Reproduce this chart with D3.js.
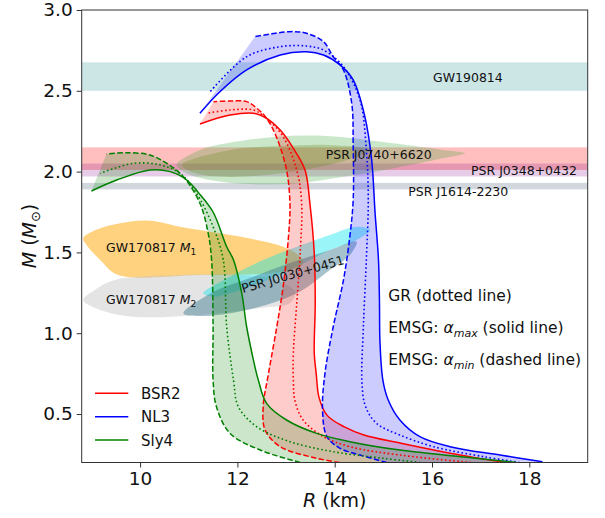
<!DOCTYPE html>
<html>
<head>
<meta charset="utf-8">
<script src="https://cdn.jsdelivr.net/npm/d3@7"></script>
<style>
  body { margin: 0; background: #fff; }
  svg { font-family: "DejaVu Sans", sans-serif; }
</style>
</head>
<body>
<svg width="605" height="518"></svg>
<script>
// ---- data: [R (km), M (Msun)] ----
var bsr2Solid = [[17.5,0.2],[16.37,0.257],[15.34,0.32],[14.6,0.37],[14.2,0.42],[13.85,0.49],[13.68,0.6],[13.62,0.75],[13.58,0.876],[13.6,1.185],[13.58,1.494],[13.49,1.804],[13.39,2.01],[13.15,2.144],[12.88,2.257],[12.6,2.33],[12.33,2.361],[11.85,2.35],[11.23,2.295]];
var bsr2Dotted = [[16.8,0.2],[15.34,0.246],[14.31,0.298],[13.77,0.36],[13.35,0.463],[13.18,0.587],[13.15,0.71],[13.15,0.876],[13.22,1.185],[13.29,1.494],[13.32,1.804],[13.22,2.01],[12.94,2.216],[12.6,2.33],[12.33,2.381],[11.85,2.381],[11.37,2.361]];
var bsr2Dashed = [[14.1,0.2],[13.63,0.226],[12.88,0.298],[12.57,0.401],[12.53,0.545],[12.64,0.752],[12.81,1.04],[12.94,1.288],[13.05,1.597],[13.08,1.804],[13.01,2.01],[12.8,2.216],[12.6,2.33],[12.4,2.392],[12.19,2.433],[11.85,2.437],[11.51,2.433]];

var nl3Solid = [[18.27,0.205],[17.4,0.246],[16.37,0.298],[15.75,0.36],[15.34,0.463],[15.1,0.587],[14.99,0.71],[14.93,0.95],[14.92,1.2],[14.9,1.453],[14.83,1.744],[14.76,2.072],[14.62,2.34],[14.38,2.567],[14.11,2.66],[13.77,2.722],[13.42,2.742],[12.88,2.722],[12.19,2.629],[11.64,2.494],[11.23,2.361]];
var nl3Dotted = [[17.8,0.2],[17.06,0.236],[16.03,0.298],[15.34,0.37],[14.86,0.442],[14.63,0.55],[14.56,0.7],[14.59,1.04],[14.65,1.453],[14.69,1.824],[14.65,2.134],[14.52,2.443],[14.18,2.649],[13.77,2.752],[13.42,2.777],[12.88,2.773],[12.19,2.711],[11.44,2.494]];
var nl3Dashed = [[15.07,0.2],[14.52,0.246],[14.11,0.288],[13.84,0.36],[13.75,0.525],[13.8,0.752],[13.97,1.04],[14.18,1.329],[14.31,1.597],[14.38,1.824],[14.38,2.154],[14.35,2.423],[14.18,2.629],[13.97,2.711],[13.77,2.804],[13.42,2.856],[13.08,2.866],[12.36,2.835]];

var sly4Solid = [[17.74,0.2],[16.71,0.232],[15.34,0.277],[14.31,0.329],[13.63,0.38],[13.01,0.463],[12.6,0.566],[12.43,0.71],[12.33,0.834],[12.19,1.04],[12.09,1.247],[11.92,1.453],[11.78,1.535],[11.5,1.75],[11.2,1.87],[10.96,1.948],[10.62,2.0],[10.2,2.01],[9.52,1.948],[9.0,1.88]];
var sly4Dotted = [[15.76,0.2],[15.0,0.226],[13.97,0.267],[13.08,0.329],[12.4,0.421],[12.02,0.545],[11.92,0.71],[11.78,1.04],[11.71,1.453],[11.5,1.659],[11.16,1.866],[10.82,1.989],[10.41,2.041],[9.86,2.051],[9.18,1.989]];
var sly4Dashed = [[13.29,0.2],[12.47,0.277],[11.85,0.38],[11.57,0.545],[11.5,0.71],[11.5,1.04],[11.47,1.453],[11.4,1.618],[11.23,1.804],[10.89,1.968],[10.55,2.051],[10.2,2.103],[9.72,2.117],[9.31,2.109]];

var eosNames = ["BSR2", "NL3", "Sly4"];
var eosColors = ["#ff0000", "#0000ff", "#008000"];

// horizontal mass bands [low, high]
var bandGW190814 = [2.50, 2.676];
var bandJ0740 = [2.01, 2.15];
var bandJ0348 = [1.97, 2.05];
var bandJ1614 = [1.89, 1.93];

// posterior outlines
var blobJ0740 = [[10.75,2.041],[11.23,2.134],[11.78,2.175],[12.81,2.216],[13.84,2.22],[15.2,2.175],[16.23,2.134],[16.68,2.113],[16.23,2.082],[15.2,2.02],[14.18,1.968],[13.15,1.925],[12.12,1.925],[11.44,1.948],[10.96,1.989]];
var blobJ0740Inner = [[10.86,2.041],[11.85,2.134],[12.88,2.158],[13.9,2.165],[14.73,2.134],[14.11,2.059],[13.08,1.998],[11.85,1.967],[11.13,1.991]];
var blobM1 = [[8.83,1.587],[9.04,1.632],[9.59,1.68],[10.2,1.696],[10.82,1.659],[11.64,1.618],[12.4,1.577],[12.94,1.535],[13.29,1.473],[13.35,1.433],[13.08,1.391],[12.47,1.366],[11.23,1.36],[9.55,1.36],[9.18,1.453],[8.9,1.546]];
var blobM2 = [[8.83,1.205],[9.07,1.267],[9.48,1.329],[10.82,1.36],[12.06,1.36],[12.77,1.329],[13.19,1.255],[13.08,1.187],[12.47,1.156],[11.23,1.113],[9.86,1.102],[9.18,1.144]];
var blobJ0030 = [[11.3,1.247],[11.85,1.35],[12.53,1.453],[13.22,1.535],[13.9,1.608],[14.45,1.659],[14.73,1.639],[14.45,1.577],[13.9,1.515],[13.22,1.411],[12.53,1.319],[11.85,1.247],[11.5,1.226]];
var blobJ0030Inner = [[10.89,1.123],[11.5,1.255],[12.26,1.342],[13.08,1.434],[13.9,1.515],[14.45,1.566],[14.31,1.484],[13.9,1.391],[13.22,1.247],[12.19,1.144],[11.23,1.106]];

var xTicks = [10, 12, 14, 16, 18];
var yTicks = [0.5, 1.0, 1.5, 2.0, 2.5, 3.0];

// ---- setup ----
var svg = d3.select("svg");
var x = d3.scaleLinear().domain([8.8, 19.2]).range([81.7, 587.7]);
var y = d3.scaleLinear().domain([0.2, 3.0]).range([462.5, 10]);

svg.append("clipPath").attr("id", "plot")
  .append("rect")
    .attr("x", x(8.8)).attr("y", y(3.0))
    .attr("width", x(19.2) - x(8.8)).attr("height", y(0.2) - y(3.0));

var g = svg.append("g").attr("clip-path", "url(#plot)");

function band(b, color, op) {
  g.append("rect")
    .attr("x", x(8.8)).attr("width", x(19.2) - x(8.8))
    .attr("y", y(b[1])).attr("height", y(b[0]) - y(b[1]))
    .attr("fill", color).attr("fill-opacity", op);
}

var blobLine = d3.line()
    .x(function(d) { return x(d[0]); })
    .y(function(d) { return y(d[1]); })
    .curve(d3.curveCatmullRomClosed.alpha(0.5));

function blob(pts, color, op) {
  g.append("path").attr("d", blobLine(pts))
    .attr("fill", color).attr("fill-opacity", op);
}

// bands + blobs
band(bandGW190814, "#008080", 0.2);
blob(blobM1, "#ffa500", 0.5);
blob(blobM2, "#c4c4c4", 0.45);
band(bandJ0740, "#ff0000", 0.25);
band(bandJ0348, "#800080", 0.2);
band(bandJ1614, "#8c9aaa", 0.4);
blob(blobJ0740, "#2ca02c", 0.25);
blob(blobJ0740Inner, "#6b8e23", 0.3);
blob(blobJ0030, "#00e5ee", 0.4);
blob(blobJ0030Inner, "#3a7a90", 0.45);

// M-R curves
var curve = d3.line()
    .x(function(d) { return x(d[0]); })
    .y(function(d) { return y(d[1]); })
    .curve(d3.curveCatmullRom.alpha(0.5));

var eosSets = [
  [bsr2Solid, bsr2Dotted, bsr2Dashed],
  [nl3Solid, nl3Dotted, nl3Dashed],
  [sly4Solid, sly4Dotted, sly4Dashed]
];

// shaded region between alpha_max (solid) and alpha_min (dashed)
eosSets.forEach(function(s, i) {
  var fillPath = curve(s[0]) + curve(s[2].slice().reverse()).replace(/^M/, "L") + "Z";
  g.append("path").attr("d", fillPath)
    .attr("fill", eosColors[i]).attr("fill-opacity", 0.2);
});

eosSets.forEach(function(s, i) {
  g.append("path").attr("d", curve(s[0]))
    .attr("fill", "none").attr("stroke", eosColors[i]).attr("stroke-width", 1.5);
  g.append("path").attr("d", curve(s[1]))
    .attr("fill", "none").attr("stroke", eosColors[i]).attr("stroke-width", 1.6)
    .attr("stroke-dasharray", "1.6,2.5");
  g.append("path").attr("d", curve(s[2]))
    .attr("fill", "none").attr("stroke", eosColors[i]).attr("stroke-width", 1.5)
    .attr("stroke-dasharray", "5.5,2.4");
});

// band labels
function label(txt, px, py) {
  return svg.append("text").attr("x", px).attr("y", py)
    .attr("font-size", "12.5px").attr("fill", "#111").text(txt);
}
label("GW190814", 433, 82);
label("PSR J0740+6620", 325.7, 159);
label("PSR J0348+0432", 471, 175);
label("PSR J1614-2230", 408.3, 196);

function gwLabel(sub, py) {
  var t = svg.append("text").attr("x", 106).attr("y", py)
    .attr("font-size", "12.5px").attr("fill", "#111");
  t.append("tspan").text("GW170817 ");
  t.append("tspan").attr("font-style", "italic").text("M");
  t.append("tspan").attr("font-size", "9px").attr("dy", 3).text(sub);
}
gwLabel("1", 252);
gwLabel("2", 304);

svg.append("text")
  .attr("transform", "translate(243,293) rotate(-16)")
  .attr("font-size", "12.5px").attr("fill", "#111")
  .text("PSR J0030+0451");

// annotations
var note = svg.append("g").attr("font-size", "15.5px").attr("fill", "#111");
note.append("text").attr("x", 388.3).attr("y", 301).text("GR (dotted line)");
function emsg(sub, rest, py) {
  var t = note.append("text").attr("x", 388.3).attr("y", py);
  t.append("tspan").text("EMSG: ");
  t.append("tspan").attr("font-style", "italic").text("α");
  t.append("tspan").attr("font-style", "italic").attr("font-size", "11px").attr("dy", 4).text(sub);
  t.append("tspan").attr("dy", -4).text(" " + rest);
}
emsg("max", "(solid line)", 333);
emsg("min", "(dashed line)", 365);

// legend
var leg = svg.append("g").attr("font-size", "15px");
eosNames.forEach(function(n, i) {
  var ly = 393.3 + i * 23.4;
  leg.append("line").attr("x1", 95).attr("x2", 128.3).attr("y1", ly).attr("y2", ly)
    .attr("stroke", eosColors[i]).attr("stroke-width", 1.5);
  leg.append("text").attr("x", 141).attr("y", ly + 5.5).attr("fill", "#111").text(n);
});

// axes
var xAxis = svg.append("g").attr("transform", "translate(0," + y(0.2) + ")")
  .call(d3.axisBottom(x).tickValues(xTicks).tickSize(5).tickPadding(4).tickFormat(d3.format("d")));
var yAxis = svg.append("g").attr("transform", "translate(" + x(8.8) + ",0)")
  .call(d3.axisLeft(y).tickValues(yTicks).tickSize(5).tickPadding(4).tickFormat(d3.format(".1f")));
[xAxis, yAxis].forEach(function(a) {
  a.select(".domain").remove();
  a.selectAll("text").attr("font-family", "DejaVu Sans").attr("font-size", "18.5px").attr("fill", "#111");
  a.selectAll("line").attr("stroke", "#333");
});

svg.append("rect")
  .attr("x", x(8.8)).attr("y", y(3.0))
  .attr("width", x(19.2) - x(8.8)).attr("height", y(0.2) - y(3.0))
  .attr("fill", "none").attr("stroke", "#333").attr("stroke-width", 1);

// axis titles
var xl = svg.append("text").attr("x", 334.7).attr("y", 507)
  .attr("text-anchor", "middle").attr("font-size", "19px").attr("fill", "#111");
xl.append("tspan").attr("font-style", "italic").text("R");
xl.append("tspan").text(" (km)");

var yl = svg.append("text").attr("transform", "translate(36,236) rotate(-90)")
  .attr("text-anchor", "middle").attr("font-size", "19px").attr("fill", "#111");
yl.append("tspan").attr("font-style", "italic").text("M");
yl.append("tspan").text(" (");
yl.append("tspan").attr("font-style", "italic").text("M");
yl.append("tspan").attr("font-size", "13px").attr("dy", 4).text("⊙");
yl.append("tspan").attr("dy", -4).text(")");
</script>
</body>
</html>
